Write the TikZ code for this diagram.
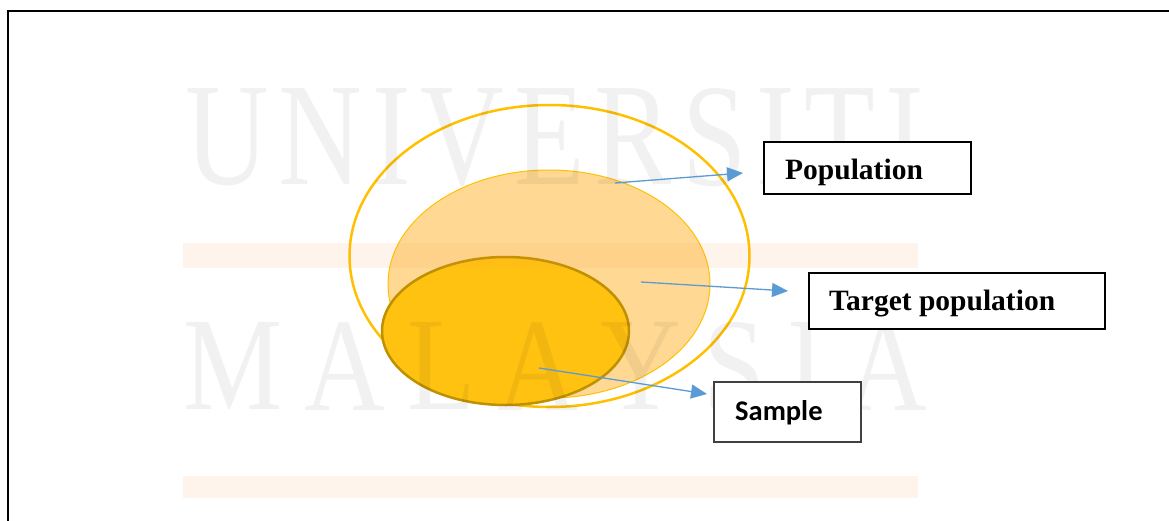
\documentclass[tikz,border=0pt]{standalone}
\usepackage{fontspec}
\setmainfont{Liberation Serif}
\newfontfamily\labelsans{Carlito}
\usetikzlibrary{arrows.meta,shapes.geometric}

\definecolor{goldline}{HTML}{FFC000}
\definecolor{targetfill}{RGB}{255,217,148}
\definecolor{samplefill}{RGB}{255,194,17}
\definecolor{sampleline}{RGB}{191,144,0}
\definecolor{arrowblue}{HTML}{5B9BD5}
\definecolor{bandtone}{RGB}{255,155,65}
\definecolor{boxgray}{RGB}{64,64,64}

\tikzset{
  setshape/.style={ellipse, inner sep=0pt, outer sep=0pt},
  pointer/.style={draw=arrowblue, line width=1.3pt,
    -{Triangle[length=16pt,width=14pt]}, color=arrowblue},
  labelbox/.style={draw=black, fill=white, line width=1.3pt, inner sep=0pt},
  labeltext/.style={anchor=base west, inner sep=0pt},
  markword/.style={anchor=north west, inner sep=0pt, text=black, text opacity=0.055},
  band/.style={fill=bandtone, fill opacity=0.1}
}

\begin{document}
\begin{tikzpicture}[x=1pt,y=-1pt]
\useasboundingbox (0,0) rectangle (1169,521);
\fill[white] (0,0) rectangle (1169,521);

% page frame (top and left edges)
\draw[line width=2.5pt] (7,11) -- (1169,11);
\draw[line width=2.5pt] (8,11) -- (8,521);

% nested sets
\node[setshape, draw=goldline, line width=2.5pt,
      minimum width=400pt, minimum height=302pt] (pop) at (549.5,256) {};
\node[setshape, draw=goldline, fill=targetfill, line width=1pt,
      minimum width=322pt, minimum height=228pt] (target) at (549,284) {};
\node[setshape, draw=sampleline, fill=samplefill, line width=2.5pt,
      minimum width=247pt, minimum height=148pt] (sample) at (505.5,331) {};

% watermark
\fill[band] (183,243) rectangle (918,268);
\fill[band] (183,476) rectangle (918,498);
\foreach \ch/\xx [count=\k] in {U/185, N/278.5, I/372, V/420.5, E/514, R/594.7, S/681.9, I/756.2, T/804.7, I/885.4}
  \node[markword] (wordA\k) at (\xx,88) {\scalebox{0.79}[1]{\fontsize{146.5}{150}\selectfont \ch}};
\foreach \ch/\xx [count=\k] in {M/183, A/304, L/407, A/497, Y/600, S/703, I/787, A/846}
  \node[markword] (wordB\k) at (\xx,322) {\scalebox{0.84}[1]{\fontsize{133}{140}\selectfont \ch}};

% label boxes
\node[labelbox, minimum width=207pt, minimum height=52pt] (popBox) at (867.5,168) {};
\node[labelbox, minimum width=296pt, minimum height=56pt] (targetBox) at (957,301) {};
\node[labelbox, draw=boxgray, line width=1.8pt, minimum width=147pt, minimum height=60pt] (sampleBox) at (787.5,412) {};

\node[labeltext, font=\fontsize{29.5}{32}\selectfont\bfseries] (popText) at (785,180) {Population};
\node[labeltext, font=\fontsize{29.5}{32}\selectfont\bfseries] (targetText) at (829,310) {Target population};
\node[labeltext, font=\labelsans\fontsize{28.5}{32}\selectfont\bfseries] (sampleText) at (735,420) {Sample};

% pointers from each set towards its label
\coordinate (popFrom) at (615,183);
\coordinate (popTo) at (743,173);
\coordinate (targetFrom) at (641,282);
\coordinate (targetTo) at (788,291);
\coordinate (sampleFrom) at (539,368);
\coordinate (sampleTo) at (707,394);
\draw[pointer] (popFrom) -- (popTo);
\draw[pointer] (targetFrom) -- (targetTo);
\draw[pointer] (sampleFrom) -- (sampleTo);
\end{tikzpicture}
\end{document}
